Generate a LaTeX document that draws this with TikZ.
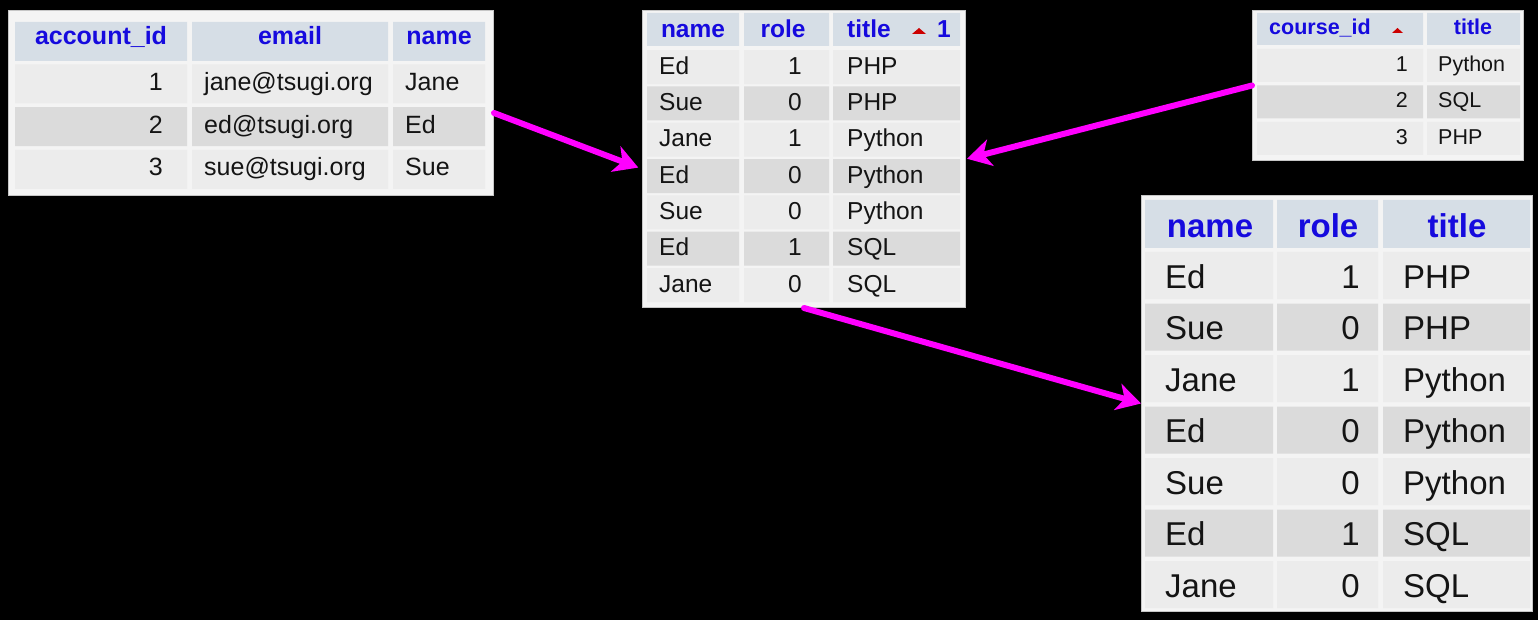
\documentclass[tikz,border=0pt]{standalone}
\usepackage{fontspec}
\setmainfont{Liberation Sans}
\usetikzlibrary{arrows.meta}

\definecolor{paper}{RGB}{244,244,244}
\definecolor{headbg}{RGB}{214,222,230}
\definecolor{rowlight}{RGB}{236,236,236}
\definecolor{rowdark}{RGB}{219,219,219}
\definecolor{headink}{RGB}{22,10,222}
\definecolor{bodyink}{RGB}{20,20,20}
\definecolor{sortred}{RGB}{204,0,0}
\definecolor{linkpink}{RGB}{255,0,255}

\newcommand\sizeA{\fontsize{25}{30}\selectfont}
\newcommand\sizeB{\fontsize{24.5}{29}\selectfont}
\newcommand\sizeC{\fontsize{21.5}{26}\selectfont}
\newcommand\sizeD{\fontsize{33}{40}\selectfont}

\begin{document}
\begin{tikzpicture}[x=1pt,y=-1pt,
  tbl/.style={draw=gray!45,fill=paper,line width=1pt,anchor=north west,inner sep=0pt},
  hd/.style={text=headink,inner sep=0pt,anchor=base},
  tx/.style={text=bodyink,inner sep=0pt},
  row1/.style={fill=rowlight},
  row0/.style={fill=rowdark},
  link/.style={draw=linkpink,line width=6pt,line cap=round,-{Stealth[length=24pt,width=27pt,inset=7pt]}}]

\useasboundingbox (0,0) rectangle (1538,620);
\fill[black] (0,0) rectangle (1538,620);

% accounts
\node[tbl,minimum width=485pt,minimum height=185pt] (acct) at (8,10) {};
\fill[headbg] (15,22) rectangle (187,61) (192,22) rectangle (388,61) (393,22) rectangle (485,61);
\foreach \i in {1,2,3}
{
\pgfmathsetmacro\t{21.5+42.8*\i}
\pgfmathtruncatemacro\k{mod(\i,2)}
\fill[row\k] (15,\t) rectangle (187,\t+39) (192,\t) rectangle (388,\t+39) (393,\t) rectangle (485,\t+39);
}
\node[hd,font=\sizeA\bfseries] (acct-h1) at (101,45) {account\_id};
\node[hd,font=\sizeA\bfseries] (acct-h2) at (290,45) {email};
\node[hd,font=\sizeA\bfseries] (acct-h3) at (439,45) {name};
\foreach \i/\b/\c in {1/jane@tsugi.org/Jane,2/ed@tsugi.org/Ed,3/sue@tsugi.org/Sue}
{
\pgfmathsetmacro\m{47.5+42.8*\i}
\node[tx,anchor=base east,font=\sizeA] (acct-\i-1) at (163,\m) {\i};
\node[tx,anchor=base west,font=\sizeA] (acct-\i-2) at (204,\m) {\b};
\node[tx,anchor=base west,font=\sizeA] (acct-\i-3) at (405,\m) {\c};
}

% member (sorted)
\node[tbl,minimum width=323pt,minimum height=297pt] (mid) at (642,10) {};
\fill[headbg] (647,13) rectangle (739,46) (744,13) rectangle (829,46) (833,13) rectangle (960,46);
\node[hd,font=\sizeB\bfseries] (mid-h1) at (693,38) {name};
\node[hd,font=\sizeB\bfseries] (mid-h2) at (783,38) {role};
\node[hd,anchor=base west,font=\sizeB\bfseries] (mid-h3) at (847,38) {title};
\fill[sortred] (912,34) -- (926,34) -- (919,28) -- cycle;
\node[hd,anchor=base west,font=\sizeB\bfseries] (mid-h4) at (937,38) {1};
\foreach \n/\r/\c [count=\i] in {Ed/1/PHP,Sue/0/PHP,Jane/1/Python,Ed/0/Python,Sue/0/Python,Ed/1/SQL,Jane/0/SQL}
{
\pgfmathsetmacro\t{13.7+36.33*\i}
\pgfmathtruncatemacro\k{mod(\i,2)}
\fill[row\k] (647,\t) rectangle (739,\t+34) (744,\t) rectangle (829,\t+34) (833,\t) rectangle (960,\t+34);
\node[tx,anchor=base west,font=\sizeB] (mid-\i-1) at (659,\t+24) {\n};
\node[tx,anchor=base east,font=\sizeB] (mid-\i-2) at (802,\t+24) {\r};
\node[tx,anchor=base west,font=\sizeB] (mid-\i-3) at (847,\t+24) {\c};
}

% courses
\node[tbl,minimum width=271pt,minimum height=150pt] (course) at (1252,10) {};
\fill[headbg] (1257,13) rectangle (1423,45) (1427,13) rectangle (1520,45);
\node[hd,anchor=base west,font=\sizeC\bfseries] (course-h1) at (1269,35) {course\_id};
\fill[sortred] (1392,33) -- (1403,33) -- (1397.5,28) -- cycle;
\node[hd,font=\sizeC\bfseries] (course-h2) at (1473,35) {title};
\foreach \c [count=\i] in {Python,SQL,PHP}
{
\pgfmathsetmacro\t{12.5+36.5*\i}
\pgfmathtruncatemacro\k{mod(\i,2)}
\fill[row\k] (1257,\t) rectangle (1423,\t+33) (1427,\t) rectangle (1520,\t+33);
\node[tx,anchor=base east,font=\sizeC] (course-\i-1) at (1408,\t+22.5) {\i};
\node[tx,anchor=base west,font=\sizeC] (course-\i-2) at (1438,\t+22.5) {\c};
}

% result
\node[tbl,minimum width=391pt,minimum height=416pt] (res) at (1141,195) {};
\fill[headbg] (1145,200) rectangle (1273,248) (1277,200) rectangle (1378,248) (1383,200) rectangle (1530,248);
\node[hd,font=\sizeD\bfseries] (res-h1) at (1210,237) {name};
\node[hd,font=\sizeD\bfseries] (res-h2) at (1328,237) {role};
\node[hd,font=\sizeD\bfseries] (res-h3) at (1457,237) {title};
\foreach \n/\r/\c [count=\i] in {Ed/1/PHP,Sue/0/PHP,Jane/1/Python,Ed/0/Python,Sue/0/Python,Ed/1/SQL,Jane/0/SQL}
{
\pgfmathsetmacro\t{200.5+51.5*\i}
\pgfmathtruncatemacro\k{mod(\i,2)}
\fill[row\k] (1145,\t) rectangle (1273,\t+47) (1277,\t) rectangle (1378,\t+47) (1383,\t) rectangle (1530,\t+47);
\node[tx,anchor=base west,font=\sizeD] (res-\i-1) at (1165,\t+36) {\n};
\node[tx,anchor=base east,font=\sizeD] (res-\i-2) at (1360,\t+36) {\r};
\node[tx,anchor=base west,font=\sizeD] (res-\i-3) at (1403,\t+36) {\c};
}

% joins
\draw[link,shorten >=4pt] ([yshift=-10pt]acct.east) -- ([yshift=-10pt]mid.west);
\draw[link,shorten >=1pt] (course.west) -- (mid.east);
\draw[link] (mid.south) -- (res.west);
\end{tikzpicture}
\end{document}
